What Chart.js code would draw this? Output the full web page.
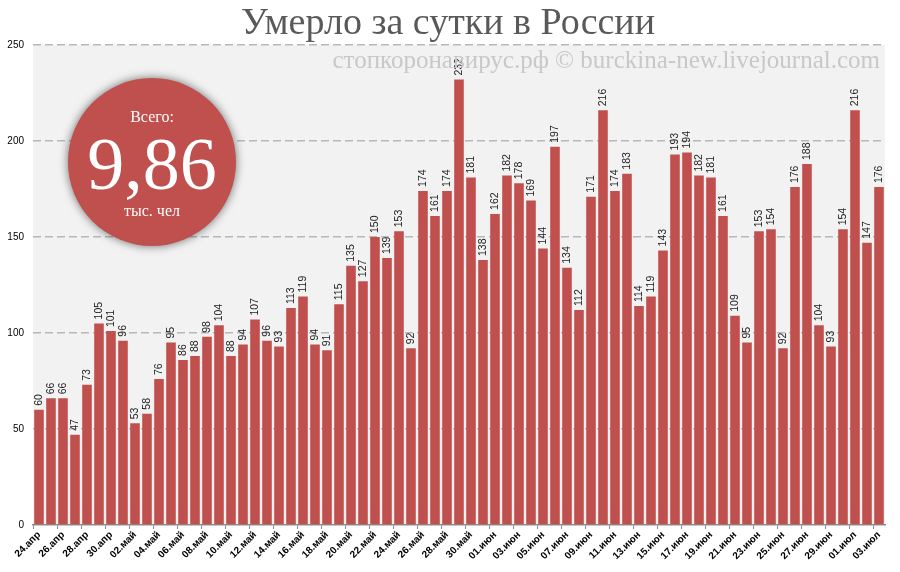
<!DOCTYPE html>
<html>
<head>
<meta charset="utf-8">
<script src="https://cdn.jsdelivr.net/npm/chart.js@4.4.0/dist/chart.umd.min.js"></script>
<style>
html,body{margin:0;padding:0;background:#fff;}
#wrap{width:900px;height:572px;}
</style>
</head>
<body>
<div id="wrap"><canvas id="myChart" width="900" height="572"></canvas></div>
<script>
// даты по дням, 24.04 - 03.07
var dni = [];
var mesyacy = [['апр',24,30],['май',1,31],['июн',1,30],['июл',1,3]];
for (var m=0;m<mesyacy.length;m++){
	for (var d=mesyacy[m][1];d<=mesyacy[m][2];d++){
		dni.push((d<10?'0':'')+d+'.'+mesyacy[m][0]);
	}
}
var umerlo = [60,66,66,47,73,105,101,96,53,58,76,95,86,88,98,104,88,94,107,96,93,113,119,94,91,115,135,127,150,139,153,92,174,161,174,232,181,138,
	162,182,178,169,144,197,134,112,171,216,174,183,114,119,143,193,194,182,181,161,109,95,153,154,92,176,188,104,93,154,
	216,147,176];
var yTicks = [0,50,100,150,200,250];
var cvet = '#c0504d';

var fonPlugin = {
	id:'fon',
	beforeDraw: function(chart){
		var ctx=chart.ctx, a=chart.chartArea;
		ctx.save();
		ctx.fillStyle='#f2f2f2';
		ctx.fillRect(a.left,a.top,a.right-a.left,a.bottom-a.top);
		ctx.restore();
	}
};

var podpisi = {
	id:'podpisi',
	afterDatasetsDraw: function(chart){
		var ctx=chart.ctx;
		var meta=chart.getDatasetMeta(0);
		ctx.save();
		ctx.fillStyle='#222';
		ctx.font='10.5px "Liberation Sans", Arial, sans-serif';
		ctx.textAlign='left';
		ctx.textBaseline='middle';
		meta.data.forEach(function(bar,i){
			ctx.save();
			ctx.translate(bar.x, bar.y-4);
			ctx.rotate(-Math.PI/2);
			ctx.fillText(String(umerlo[i]),0,0);
			ctx.restore();
		});
		ctx.restore();
	}
};

var ukrashenie = {
	id:'ukrashenie',
	afterDraw: function(chart){
		var ctx=chart.ctx;
		ctx.save();
		// заголовок
		ctx.fillStyle='#595959';
		ctx.font='38px "Liberation Serif", "DejaVu Serif", serif';
		ctx.textAlign='center';
		ctx.textBaseline='alphabetic';
		ctx.fillText('Умерло за сутки в России',448,34);
		// водяной знак
		ctx.fillStyle='#c8c8c8';
		ctx.font='25px "Liberation Serif", "DejaVu Serif", serif';
		ctx.textAlign='right';
		ctx.fillText('стопкоронавирус.рф © burckina-new.livejournal.com',880,68);
		// круг
		ctx.save();
		ctx.shadowColor='rgba(0,0,0,0.55)';
		ctx.shadowBlur=10;
		ctx.fillStyle=cvet;
		ctx.beginPath();
		ctx.arc(152,162,84,0,Math.PI*2);
		ctx.fill();
		ctx.restore();
		ctx.fillStyle='#fff';
		ctx.textAlign='center';
		ctx.font='16px "Liberation Serif", serif';
		ctx.textBaseline='middle';
		ctx.fillText('Всего:',152,118);
		ctx.font='74px "Liberation Serif", serif';
		ctx.textBaseline='alphabetic';
		ctx.fillText('9,86',152,189);
		ctx.font='16px "Liberation Serif", serif';
		ctx.textBaseline='middle';
		ctx.fillText('тыс. чел',152,212);
		ctx.restore();
	}
};

var datos = {
	labels: dni,
	datasets: [{
		data: umerlo,
		backgroundColor: cvet,
		borderWidth: 0,
		categoryPercentage: 1,
		barPercentage: 0.8
	}]
};

var opciones = {
	responsive: false,
	animation: false,
	layout: {padding:{top:45,right:15,left:0,bottom:0}},
	plugins: {
		legend:{display:false},
		tooltip:{enabled:false},
		title:{display:false}
	},
	scales: {
		x: {
			offset: true,
			grid: {
				offset: true,
				drawOnChartArea: false,
				drawTicks: true,
				tickLength: 4,
				color: function(c){ return c.index%2==0 ? '#8c8c8c' : 'rgba(0,0,0,0)'; }
			},
			border: {color:'#8c8c8c', width:1.5},
			ticks: {
				autoSkip: false,
				maxRotation: 45,
				minRotation: 45,
				padding: 0,
				color: '#000',
				font: {family:'"Liberation Sans", Arial, sans-serif', size:10, weight:'bold'},
				callback: function(v,i){ return i%2==0 ? dni[i] : ''; }
			},
			afterFit: function(s){ s.height = 47; }
		},
		y: {
			min: 0,
			max: 250,
			afterBuildTicks: function(s){ s.ticks = yTicks.map(function(v){ return {value:v}; }); },
			grid: {
				color: function(c){ return c.tick && c.tick.value===0 ? 'rgba(0,0,0,0)' : '#b8b8b8'; },
				lineWidth: 1.5,
				drawTicks: false
			},
			border: {display:false, dash:[8,4]},
			ticks: {
				padding: 9,
				color: '#000',
				font: {family:'"Liberation Sans", Arial, sans-serif', size:10}
			},
			afterFit: function(s){ s.width = 33; }
		}
	}
};

var myChart = new Chart(document.getElementById('myChart'), {
	type: 'bar',
	data: datos,
	options: opciones,
	plugins: [fonPlugin, podpisi, ukrashenie]
});
</script>
</body>
</html>
